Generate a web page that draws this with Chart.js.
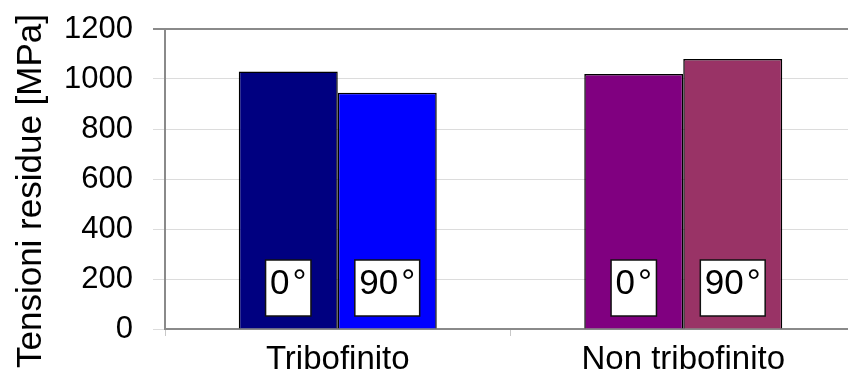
<!DOCTYPE html>
<html>
<head>
<meta charset="utf-8">
<script src="https://cdn.jsdelivr.net/npm/chart.js@4/dist/chart.umd.min.js"></script>
<style>
  html, body { margin: 0; padding: 0; background: #fff; overflow: hidden; }
  #wrap { width: 856px; height: 380px; position: relative; }
</style>
</head>
<body>
<div id="wrap"><canvas id="c"></canvas></div>
<script>
// Residual stress by surface condition and measuring direction
const categories = ['Tribofinito', 'Non tribofinito'];
const directions = ['0\u200A°', '90\u200A°'];
const stress0 = [1030, 1020];
const stress90 = [945, 1080];
const yTicks = [0, 200, 400, 600, 800, 1000, 1200];
const axisTitle = 'Tensioni residue [MPa]';

const FONT = '"Liberation Sans", Arial, Helvetica, sans-serif';

// White boxed direction label sitting near the foot of every bar
const boxLabels = {
  id: 'boxLabels',
  afterDatasetsDraw(chart) {
    const ctx = chart.ctx;
    const base = chart.scales.y.getPixelForValue(0);
    ctx.save();
    ctx.font = '35px ' + FONT;
    chart.data.datasets.forEach((ds, i) => {
      chart.getDatasetMeta(i).data.forEach(bar => {
        const txt = ds.label;
        const w = ctx.measureText(txt).width + 9;
        const h = 56;
        const bottom = base - 13;
        const left = bar.x - w / 2;
        ctx.fillStyle = '#fff';
        ctx.fillRect(left, bottom - h, w, h);
        ctx.lineWidth = 1.5;
        ctx.strokeStyle = '#111';
        ctx.strokeRect(left, bottom - h, w, h);
        ctx.fillStyle = '#000';
        ctx.textAlign = 'center';
        ctx.textBaseline = 'alphabetic';
        ctx.fillText(txt, bar.x, bottom - 22);
      });
    });
    ctx.restore();
  }
};

// Vertical axis title, centred on the full figure height
const yTitle = {
  id: 'yTitle',
  afterDraw(chart) {
    const ctx = chart.ctx;
    ctx.save();
    ctx.translate(41, 191);
    ctx.rotate(-Math.PI / 2);
    ctx.font = '35px ' + FONT;
    ctx.fillStyle = '#000';
    ctx.textAlign = 'center';
    ctx.textBaseline = 'alphabetic';
    ctx.fillText(axisTitle, 0, 0);
    ctx.restore();
  }
};

new Chart(document.getElementById('c'), {
  type: 'bar',
  data: {
    labels: categories,
    datasets: [
      {
        label: directions[0],
        data: stress0,
        backgroundColor: ['#000080', '#800080'],
        borderColor: '#000',
        borderWidth: 1.5
      },
      {
        label: directions[1],
        data: stress90,
        backgroundColor: ['#0000FF', '#993366'],
        borderColor: '#000',
        borderWidth: 1.5
      }
    ]
  },
  options: {
    responsive: true,
    maintainAspectRatio: false,
    animation: false,
    layout: { padding: { top: 29, left: 0, right: 0, bottom: 0 } },
    datasets: { bar: { barPercentage: 1, categoryPercentage: 0.573 } },
    plugins: {
      legend: { display: false },
      tooltip: { enabled: false }
    },
    scales: {
      x: {
        offset: true,
        grid: {
          offset: true,
          drawOnChartArea: false,
          tickLength: 7,
          color: '#c8c8c8'
        },
        border: { color: '#8a8a8a', width: 2 },
        ticks: {
          padding: 4,
          color: '#000',
          font: { family: FONT, size: 33 }
        },
        afterFit(s) { s.height = 51; }
      },
      y: {
        min: 0,
        max: 1200,
        afterBuildTicks(s) { s.ticks = yTicks.map(v => ({ value: v })); },
        grid: {
          tickLength: 12,
          color: c => (c.tick && c.tick.value === 1200 ? '#8a8a8a' : '#dcdcdc'),
          lineWidth: c => (c.tick && c.tick.value === 1200 ? 2 : 1)
        },
        border: { color: '#8a8a8a', width: 2 },
        ticks: {
          padding: 20,
          color: '#000',
          font: { family: FONT, size: 31 },
          callback: v => String(v)
        },
        afterFit(s) {
          s.width = 165;
          s.paddingTop = 0;
          s.paddingBottom = 0;
        }
      }
    }
  },
  plugins: [boxLabels, yTitle]
});
</script>
</body>
</html>
